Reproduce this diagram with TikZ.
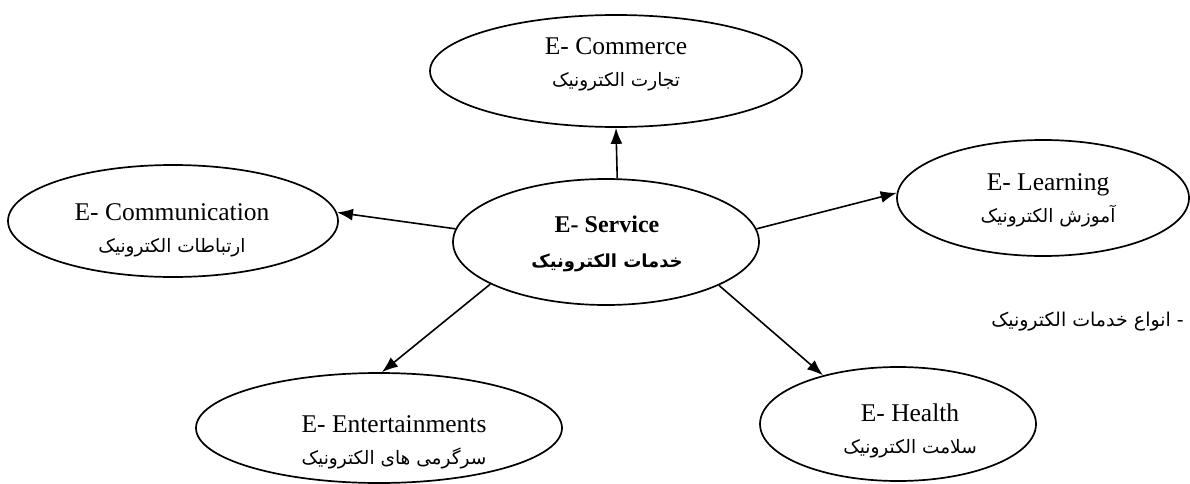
\documentclass[tikz,border=0pt]{standalone}
\usepackage{fontspec}
\setmainfont{Liberation Serif}
\newfontfamily\fa[Script=Arabic]{DejaVu Sans}
\TeXXeTstate=1
\usetikzlibrary{arrows.meta,shapes.geometric}
\tikzset{
  oval/.style={draw, ellipse, line width=1.7pt, inner sep=0pt},
  txt/.style={inner sep=0pt, align=center, font=\fontsize{25.5}{32}\selectfont},
  conn/.style={line width=1.6pt, -{Latex[length=16pt,width=12pt]}},
}
\newcommand{\fatext}[1]{{\fa\fontsize{18.5}{32}\selectfont\beginR #1\endR}}
\begin{document}
\begin{tikzpicture}[x=1pt,y=-1pt]
\useasboundingbox (0,0) rectangle (1190,484);
\node[oval, minimum width=372pt, minimum height=112pt] (com) at (616,71) {};
\node[oval, minimum width=330pt, minimum height=112pt] (cmm) at (173,221) {};
\node[oval, minimum width=306pt, minimum height=126pt] (svc) at (606,242) {};
\node[oval, minimum width=292pt, minimum height=116pt] (lrn) at (1043,198) {};
\node[oval, minimum width=366pt, minimum height=110pt] (ent) at (379,428) {};
\node[oval, minimum width=276pt, minimum height=114pt] (hlt) at (898,424) {};
\node[txt] (comt) at (616,64) {E- Commerce\\\fatext{تجارت الکترونیک}};
\node[txt] (cmmt) at (172,230) {E- Communication\\\fatext{ارتباطات الکترونیک}};
\node[txt, font=\bfseries\fontsize{24}{35}\selectfont] (svct) at (607,244)
  {E- Service\\{\fa\bfseries\fontsize{18}{35}\selectfont\beginR خدمات الکترونیک\endR}};
\node[txt] (lrnt) at (1048,200) {E- Learning\\\fatext{آموزش الکترونیک}};
\node[txt] (entt) at (394,442) {E- Entertainments\\\fatext{سرگرمی های الکترونیک}};
\node[txt] (hltt) at (910,431) {E- Health\\\fatext{سلامت الکترونیک}};
\node[anchor=east, inner sep=0pt, font=\fa\fontsize{19}{22}\selectfont] (cap) at (1184,322)
  {\beginR - انواع خدمات الکترونیک\endR};
\draw[conn] (svc.80) -- (com.south);
\draw[conn] (svc.175) -- (cmm.3);
\draw[conn] (svc.5) -- (lrn.178);
\draw[conn] (svc.200) -- (ent.87);
\draw[conn] (svc.339) -- (hlt.147);
\end{tikzpicture}
\end{document}
